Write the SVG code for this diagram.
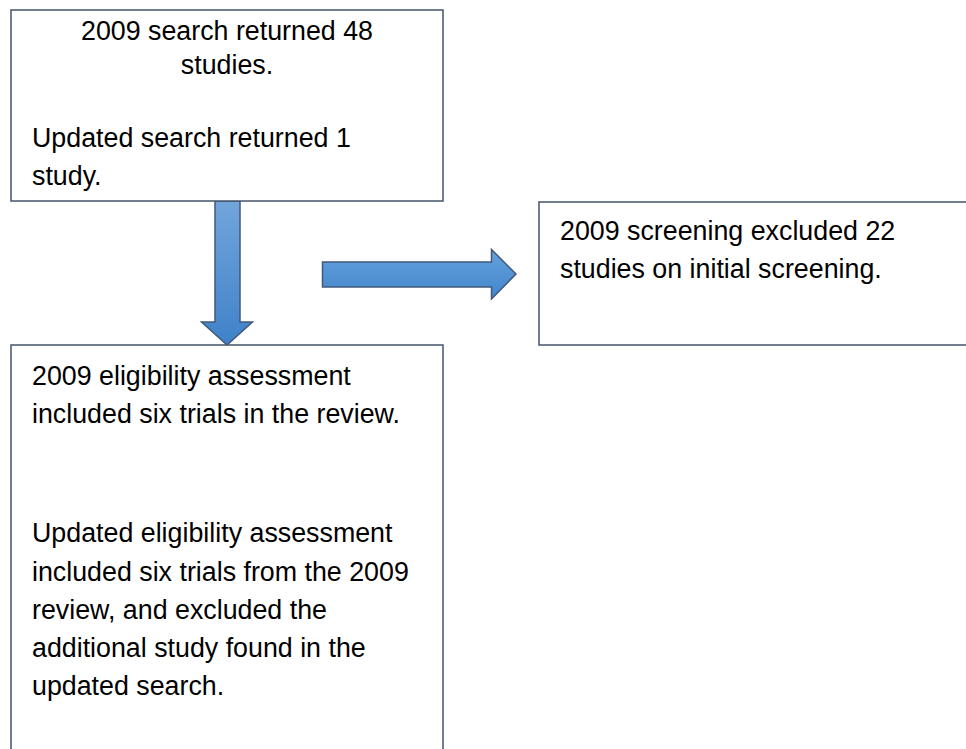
<svg xmlns="http://www.w3.org/2000/svg" width="966" height="749" viewBox="0 0 966 749">
<style>
.box{fill:#ffffff;stroke:#44546a;stroke-width:1.5}
.arrow{stroke:#42597a;stroke-width:1.5;stroke-linejoin:miter}
text{font-family:"Liberation Sans",Arial,sans-serif;font-size:26.8px;fill:#000000}
</style>
<defs>
<linearGradient id="gDown" x1="0" y1="0" x2="0" y2="1">
<stop offset="0" stop-color="#72a5db"/>
<stop offset="1" stop-color="#3f82c9"/>
</linearGradient>
<linearGradient id="gRight" x1="0" y1="0" x2="0" y2="1">
<stop offset="0" stop-color="#65a1dd"/>
<stop offset="1" stop-color="#4286cc"/>
</linearGradient>
</defs>
<rect width="966" height="749" fill="#ffffff"/>
<g id="connectors">
<path class="arrow" fill="url(#gDown)" d="M215,201 L240,201 L240,322 L252.5,322 L227,345 L201.5,322 L215,322 Z"/>
<path class="arrow" fill="url(#gRight)" d="M322.5,262 L491.5,262 L491.5,249.5 L516,274 L491.5,299 L491.5,287 L322.5,287 Z"/>
</g>
<g id="node-search">
<rect class="box" x="11" y="10" width="432" height="191"/>
<text x="227" y="40" text-anchor="middle">2009 search returned 48</text>
<text x="227" y="74" text-anchor="middle">studies.</text>
<text x="32" y="147">Updated search returned 1</text>
<text x="32" y="185">study.</text>
</g>
<g id="node-screening">
<rect class="box" x="539" y="202" width="440" height="143"/>
<text x="560" y="240">2009 screening excluded 22</text>
<text x="560" y="278">studies on initial screening.</text>
</g>
<g id="node-eligibility">
<rect class="box" x="11" y="345" width="432" height="420"/>
<text x="32" y="385">2009 eligibility assessment</text>
<text x="32" y="423">included six trials in the review.</text>
<text x="32" y="542">Updated eligibility assessment</text>
<text x="32" y="581">included six trials from the 2009</text>
<text x="32" y="619">review, and excluded the</text>
<text x="32" y="657">additional study found in the</text>
<text x="32" y="695">updated search.</text>
</g>
</svg>
